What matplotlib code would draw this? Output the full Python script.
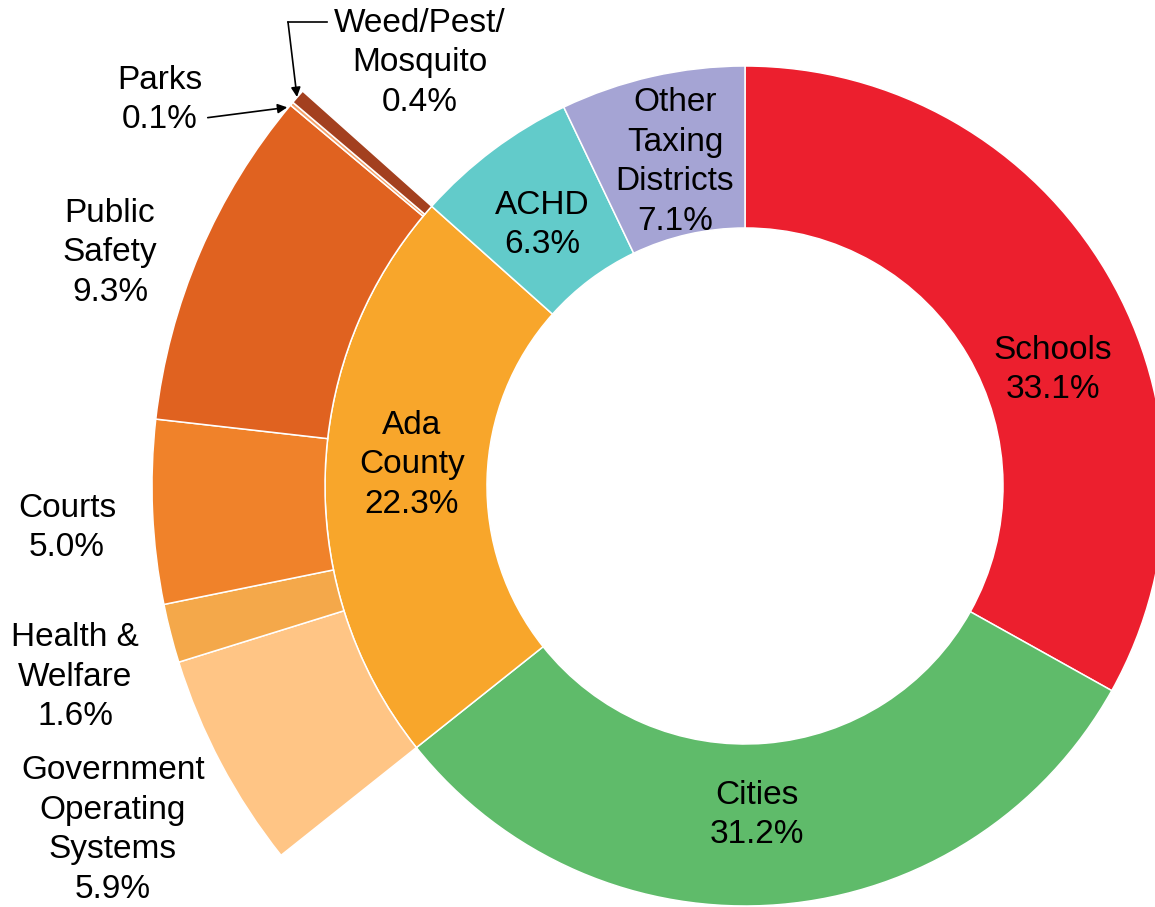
import matplotlib.pyplot as plt

plt.rcParams['font.family'] = ['Liberation Sans', 'DejaVu Sans']

# main ring (clockwise from top)
main_names = ['Schools', 'Cities', 'Ada\nCounty', 'ACHD', 'Other\nTaxing\nDistricts']
main_pct = [33.1, 31.2, 22.3, 6.3, 7.1]
main_colors = ['#EC1F2E', '#5FBB6A', '#F8A62B', '#62CBCA', '#A5A4D4']

# Ada County breakdown (clockwise, starting after Cities)
ada_names = ['Government\nOperating\nSystems', 'Health &\nWelfare', 'Courts', 'Public\nSafety', 'Parks', 'Weed/Pest/\nMosquito']
ada_pct = [5.9, 1.6, 5.0, 9.3, 0.1, 0.4]
ada_colors = ['#FFC585', '#F4A84A', '#F0822A', '#E06220', '#F5A36C', '#A3401F']

fig = plt.figure(figsize=(11.55, 9.07), dpi=100)
ax = fig.add_axes([0, 0, 1, 1])
cx, cy = 745, 421
r_in, r_mid, r_out = 258, 420, 593

wedges, _ = ax.pie(main_pct, colors=main_colors, radius=r_mid, center=(cx, cy),
                   startangle=90, counterclock=False, frame=True,
                   wedgeprops=dict(width=r_mid - r_in, edgecolor='white', linewidth=1.1))

before = main_pct[0] + main_pct[1]
after = main_pct[3] + main_pct[4]
outer_vals = [before] + ada_pct + [after]
outer_cols = ['none'] + ada_colors + ['none']
owedges, _ = ax.pie(outer_vals, colors=outer_cols, radius=r_out, center=(cx, cy),
                    startangle=90, counterclock=False, frame=True,
                    wedgeprops=dict(width=r_out - r_mid, edgecolor='white', linewidth=1.1))
owedges[0].set_edgecolor('none')
owedges[-1].set_edgecolor('none')

ax.set_xlim(0, 1155)
ax.set_ylim(0, 907)
ax.set_aspect('equal')
ax.axis('off')

fs = 24
ls = 1.36
H = 907
# label positions in pixel coords (x, y from top)
main_pos = [(1053, 370), (757, 815), (412, 465), (542, 225), (675, 162)]
for name, p, (x, y) in zip(main_names, main_pct, main_pos):
    ax.text(x, H - y, f'{name}\n{p:.1f}%', ha='center', va='center',
            fontsize=fs, linespacing=ls)

ada_pos = [(113, 830), (75, 677), (67, 528), (110, 253), (160, 100), (420, 63)]
for name, p, (x, y) in zip(ada_names, ada_pct, ada_pos):
    ax.text(x, H - y, f'{name}\n{p:.1f}%', ha='center', va='center',
            fontsize=fs, linespacing=ls)

# leader arrows for the tiny slices
ax.annotate('', xy=(290, H - 107), xytext=(205, H - 118),
            arrowprops=dict(arrowstyle='-|>', color='black', lw=1.2, mutation_scale=14))
ax.plot([327, 288], [H - 22, H - 22], color='black', lw=1.2)
ax.annotate('', xy=(297, H - 97), xytext=(288, H - 22),
            arrowprops=dict(arrowstyle='-|>', color='black', lw=1.2, mutation_scale=14,
                            shrinkA=0, shrinkB=0))

fig.savefig('out.png', dpi=100)
